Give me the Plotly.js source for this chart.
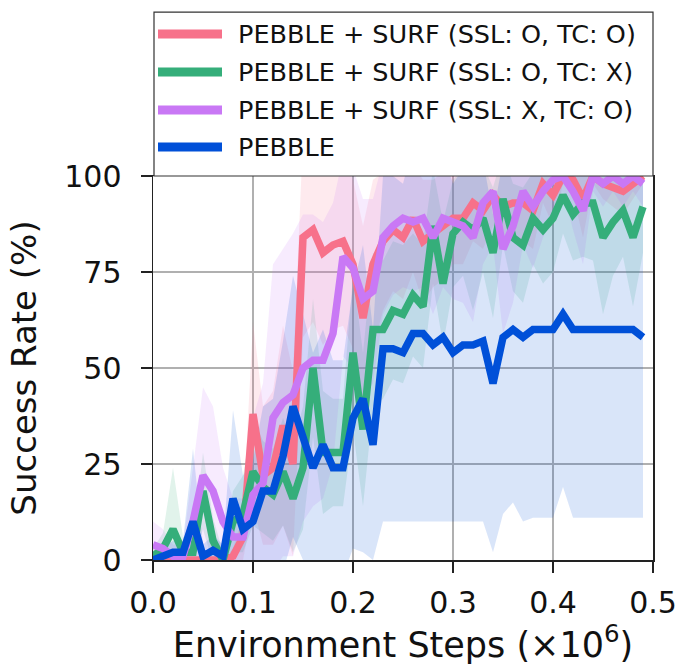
<!DOCTYPE html>
<html>
<head>
<meta charset="utf-8">
<script src="https://cdn.plot.ly/plotly-3.0.1.min.js"></script>
<style>
  html, body { margin: 0; padding: 0; background: #ffffff; }
  #chart { width: 676px; height: 667px; }
</style>
</head>
<body>
<div id="chart"></div>
<script>
// Environment steps (x10^6)
const steps = [0.00,0.01,0.02,0.03,0.04,0.05,0.06,0.07,0.08,0.09,
               0.10,0.11,0.12,0.13,0.14,0.15,0.16,0.17,0.18,0.19,
               0.20,0.21,0.22,0.23,0.24,0.25,0.26,0.27,0.28,0.29,
               0.30,0.31,0.32,0.33,0.34,0.35,0.36,0.37,0.38,0.39,
               0.40,0.41,0.42,0.43,0.44,0.45,0.46,0.47,0.48,0.49];

const seriesNames = [
  "PEBBLE + SURF (SSL: O, TC: O)",
  "PEBBLE + SURF (SSL: O, TC: X)",
  "PEBBLE + SURF (SSL: X, TC: O)",
  "PEBBLE"
];

// mean success rate (%)
const surfSslTc = [0,0,0,0,0,0,0,0,1,6,
                   38,22,24,35,25,84,86,80,82,83,
                   77,63,77,83,86,84,89,83,85,87,
                   89,89,93,91,95,92,93,93,91,98,
                   95,100,99,94,100,98,97,96,98,100];
const surfSslOnly = [1,3,8,2,2,18,5,0,10,12,
                     23,19,17,23,16,24,50,28,28,28,
                     54,34,60,60,65,64,69,66,87,72,
                     85,88,86,89,80,94,84,82,89,86,
                     89,95,90,93,93,84,88,91,84,92];
const surfTcOnly = [4,3,1,1,10,22,18,10,6,6,
                    17,20,37,41,43,50,52,52,59,79,
                    76,68,70,84,87,89,88,89,84,89,
                    88,87,84,93,96,81,87,96,92,96,
                    99,100,96,91,100,98,100,98,100,98];
const pebble = [0,1,2,2,10,1,2.5,1,16,8,
                10,18,18,27,40,32,24,30,24,24,
                37,42,30,55,55,54,59,59,56,58,
                54,56,56,57,46,58,60,58,60,60,
                60,64,60,60,60,60,60,60,60,58];

// standard deviation (%) of each series
const surfSslTcStd = [0,0,0,0,0,0,0,0,2,6,
                      24,18,20,26,24,26,24,24,22,22,
                      22,24,22,18,16,16,14,16,14,14,
                      12,12,10,10,8,10,9,10,10,5,
                      8,2,4,10,2,4,5,6,4,2];
const surfSslOnlyStd = [2,4,16,4,3,10,6,2,8,10,
                        14,12,12,14,14,16,18,16,14,14,
                        20,20,20,18,18,18,16,16,15,16,
                        14,14,21,14,17,12,14,15,12,14,
                        14,10,12,14,15,20,14,12,18,12];
const surfTcOnlyStd = [6,5,3,3,14,23,22,14,10,10,
                       20,26,40,40,42,40,38,36,34,26,
                       26,26,24,20,18,18,18,18,20,18,
                       20,20,22,16,14,22,20,14,16,12,
                       10,4,10,14,4,6,4,6,4,6];
const pebbleStd = [1,2,3,3,19,3,4,3,23,14,
                   16,22,24,30,34,32,30,30,28,28,
                   34,40,30,45,45,44,49,49,46,48,
                   44,46,46,47,44,46,45,48,49,49,
                   49,45,49,49,49,49,49,49,49,47];

const yTicks = [0, 25, 50, 75, 100];
const xTicks = [0.0, 0.1, 0.2, 0.3, 0.4, 0.5];

const colors = ["#f7718a", "#35ae7a", "#c978f5", "#0050d8"];
const bandColors = ["rgba(247,113,138,0.15)", "rgba(53,174,122,0.15)",
                    "rgba(201,120,245,0.15)", "rgba(0,80,216,0.15)"];

const means = [surfSslTc, surfSslOnly, surfTcOnly, pebble];
const stds = [surfSslTcStd, surfSslOnlyStd, surfTcOnlyStd, pebbleStd];

const traces = [];
means.forEach((m, k) => {
  const s = stds[k];
  traces.push({
    x: steps, y: m.map((v, i) => v - s[i]), type: "scatter", mode: "lines",
    line: { width: 0, color: bandColors[k] }, hoverinfo: "skip", showlegend: false
  });
  traces.push({
    x: steps, y: m.map((v, i) => v + s[i]), type: "scatter", mode: "lines",
    fill: "tonexty", fillcolor: bandColors[k],
    line: { width: 0, color: bandColors[k] }, hoverinfo: "skip", showlegend: false
  });
});
means.forEach((m, k) => {
  traces.push({
    x: steps, y: m, type: "scatter", mode: "lines", name: seriesNames[k],
    line: { width: 7.5, color: colors[k] }, showlegend: false
  });
});

// manual legend (box above the axes, spanning full width)
const rowsY = [1.3698, 1.2708, 1.1719, 1.0755];
const shapes = [{
  type: "rect", xref: "paper", yref: "paper", x0: 0.002, x1: 1.0, y0: 1.0, y1: 1.427,
  line: { color: "#333333", width: 1.2 }, fillcolor: "#ffffff", layer: "above"
}];
const annotations = [];
seriesNames.forEach((name, k) => {
  shapes.push({
    type: "line", xref: "paper", yref: "paper", x0: 0.01, x1: 0.138, y0: rowsY[k], y1: rowsY[k],
    line: { color: colors[k], width: 9 }, layer: "above"
  });
  annotations.push({
    xref: "paper", yref: "paper", x: 0.166, y: rowsY[k], xanchor: "left", yanchor: "middle",
    text: name, showarrow: false, font: { family: "DejaVu Sans", size: 25.5, color: "#111111" }
  });
});

const axisCommon = {
  showline: true, mirror: true, linecolor: "#222222", linewidth: 1.5,
  ticks: "outside", ticklen: 11, tickwidth: 1.5, tickcolor: "#222222",
  showgrid: true, gridcolor: "#b0b0b0", gridwidth: 1.5, zeroline: false,
  tickfont: { family: "DejaVu Sans", size: 30, color: "#111111" }
};

const layout = {
  width: 676, height: 667,
  margin: { l: 153, r: 23, t: 176, b: 107, pad: 0 },
  paper_bgcolor: "#ffffff", plot_bgcolor: "#ffffff",
  font: { family: "DejaVu Sans", color: "#111111" },
  showlegend: false,
  xaxis: Object.assign({}, axisCommon, {
    range: [0, 0.5], tickvals: xTicks, tickformat: ".1f",
    ticklabeloverflow: "allow", ticklabelstandoff: 4,
    title: { text: "Environment Steps (×10<sup>6</sup>)", font: { family: "DejaVu Sans", size: 35, color: "#111111" }, standoff: 12 }
  }),
  yaxis: Object.assign({}, axisCommon, {
    range: [0, 100], tickvals: yTicks, ticklabelstandoff: 13,
    title: { text: "Success Rate (%)", font: { family: "DejaVu Sans", size: 34, color: "#111111" }, standoff: 17 }
  }),
  shapes: shapes,
  annotations: annotations
};

Plotly.newPlot("chart", traces, layout, { displayModeBar: false, staticPlot: true });
</script>
</body>
</html>
